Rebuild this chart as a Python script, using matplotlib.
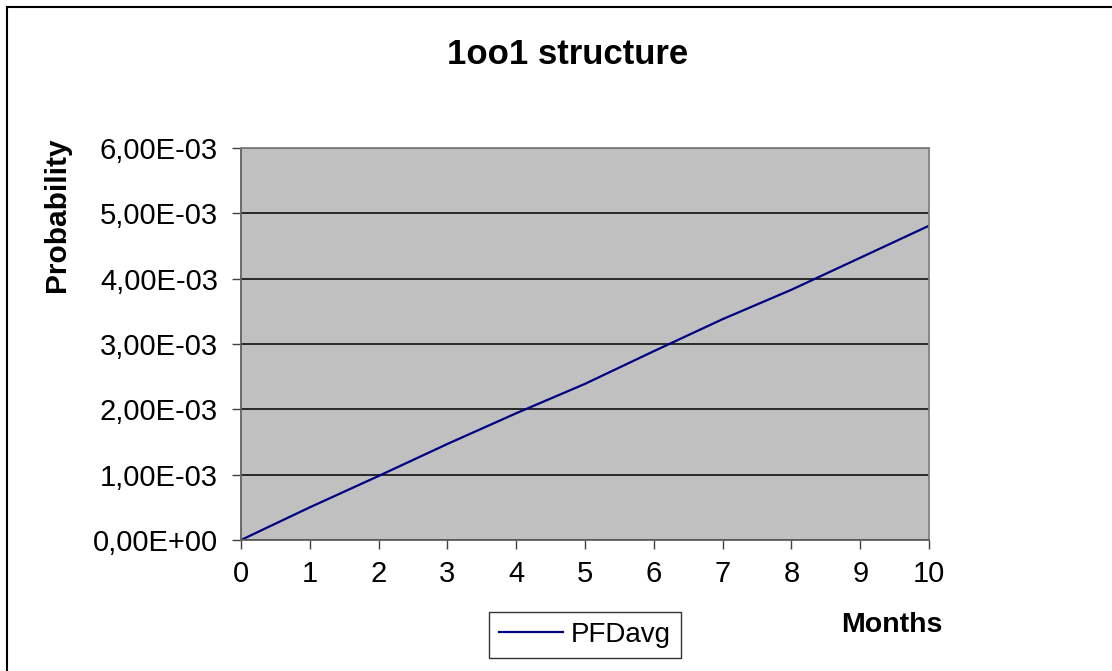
import matplotlib
matplotlib.use("Agg")
import matplotlib.pyplot as plt
from matplotlib.ticker import FuncFormatter, MultipleLocator
from matplotlib.lines import Line2D

months = [0, 1, 2, 3, 4, 5, 6, 7, 8, 9, 10]
pfd_avg = [0.0, 0.00050, 0.00098, 0.00147, 0.00194, 0.00239,
           0.00289, 0.00338, 0.00383, 0.00432, 0.00481]

plt.rcParams['font.family'] = ['Liberation Sans', 'DejaVu Sans']

W, H = 1112, 671
fig = plt.figure(figsize=(W / 100, H / 100), dpi=100)

# plot area in pixels: left 241, right 929, top 148, bottom 540
ax = fig.add_axes([241 / W, 1 - 540 / H, 688 / W, 392 / H])
ax.set_facecolor('#C0C0C0')
ax.plot(months, pfd_avg, color='#000080', linewidth=1.6, label='PFDavg')

ax.set_xlim(0, 10)
ax.set_ylim(0, 0.006)
ax.xaxis.set_major_locator(MultipleLocator(1))
ax.yaxis.set_major_locator(MultipleLocator(0.001))
ax.yaxis.set_major_formatter(FuncFormatter(lambda v, p: f"{v:.2E}".replace('.', ',')))
ax.grid(axis='y', color='black', linewidth=1.1)
ax.set_axisbelow(True)

for side in ['top', 'right']:
    ax.spines[side].set_color('#808080')
    ax.spines[side].set_linewidth(1.3)
for side in ['left', 'bottom']:
    ax.spines[side].set_color('#606060')
    ax.spines[side].set_linewidth(1.3)

ax.tick_params(direction='out', length=6.5, width=1, color='#404040',
               labelsize=21)
ax.tick_params(axis='y', pad=10)
ax.tick_params(axis='x', pad=8)

fig.text(568 / W, 1 - 55 / H, '1oo1 structure', ha='center', va='center',
         fontsize=25, fontweight='bold')
fig.text(57 / W, 1 - 215 / H, 'Probability', ha='center', va='center',
         rotation=90, fontsize=21.5, fontweight='bold')
fig.text(892 / W, 1 - 625 / H, 'Months', ha='center', va='center',
         fontsize=20.5, fontweight='bold')

leg = fig.legend(loc='center', bbox_to_anchor=(585 / W, 1 - 635 / H),
                 fontsize=20, frameon=True, fancybox=False, handlelength=2.3,
                 borderpad=0.35, handletextpad=0.3, borderaxespad=0)
leg.get_frame().set_edgecolor('black')
leg.get_frame().set_linewidth(1)

# outer chart border (top and left visible)
fig.add_artist(Line2D([7 / W, 1], [1 - 7 / H, 1 - 7 / H], color='black', lw=1.5))
fig.add_artist(Line2D([7 / W, 7 / W], [0, 1 - 7 / H], color='black', lw=1.5))

fig.savefig('out.png', dpi=100)
